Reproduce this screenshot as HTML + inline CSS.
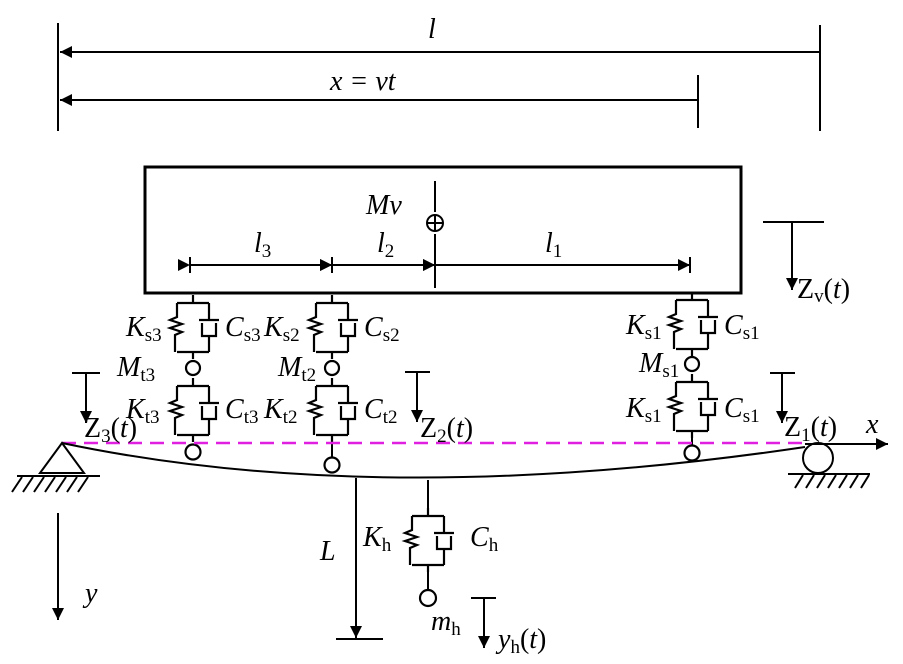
<!DOCTYPE html>
<html><head><meta charset="utf-8"><style>
body{margin:0;background:#fff}
svg{display:block}
</style></head><body>
<svg width="903" height="664" viewBox="0 0 903 664" xmlns="http://www.w3.org/2000/svg" font-family="Liberation Serif, serif" font-size="28">
<defs>
<marker id="a" viewBox="0 0 10 10" refX="10" refY="5" markerWidth="14" markerHeight="12" markerUnits="userSpaceOnUse" orient="auto"><path d="M0,0L10,5L0,10z"/></marker>
<g id="u" fill="none" stroke="#000" stroke-width="2.2">
<path d="M0,-8V0M-16,0H16M-16,0V14l-7,3l12,4l-12,4l12,4l-7,3V49M16,0V17M6,17H26M9,20V33H23V20M16,33V49M-16,49H16M0,49V56"/>
</g>
</defs>
<g stroke="#000" stroke-width="2" fill="none">
<path d="M58,23V131M820,25V131M698,75V128"/>
<path d="M820,52H60" marker-end="url(#a)"/>
<path d="M698,100H60" marker-end="url(#a)"/>
<rect x="145" y="167" width="596" height="126" stroke-width="3"/>
<path d="M435,181V212M435,234V288" />
<circle cx="435" cy="223" r="8"/><path d="M427,223H443M435,215V231"/>
<path d="M190,257V273M332,257V273M690,257V273" />
<path d="M190,265H332" marker-start="url(#a)" marker-end="url(#a)"/>
<path d="M332,265H435" marker-start="url(#a)" marker-end="url(#a)"/>
<path d="M435,265H690" marker-start="url(#a)" marker-end="url(#a)"/>
</g>
<use href="#u" x="193" y="303"/><circle cx="193" cy="368" r="7" fill="#fff" stroke="#000" stroke-width="2.2"/><use href="#u" x="193" y="386"/><circle cx="193" cy="452" r="7.5" fill="none" stroke="#000" stroke-width="2.2"/>
<use href="#u" x="332" y="303"/><circle cx="332" cy="368" r="7" fill="#fff" stroke="#000" stroke-width="2.2"/><use href="#u" x="332" y="386"/><path d="M332,435V458" stroke="#000" stroke-width="2"/><circle cx="332" cy="465" r="7.5" fill="none" stroke="#000" stroke-width="2.2"/>
<use href="#u" x="692" y="300"/><circle cx="692" cy="364" r="7" fill="#fff" stroke="#000" stroke-width="2.2"/><use href="#u" x="692" y="382"/><path d="M692,431V446" stroke="#000" stroke-width="2"/><circle cx="692" cy="453" r="7.5" fill="none" stroke="#000" stroke-width="2.2"/>
<path d="M62,443H805" stroke="#e020e0" stroke-width="2.5" stroke-dasharray="14,8" fill="none"/>
<g stroke="#000" stroke-width="2" fill="none">
<path d="M62,443Q380,510 805,447"/>
<path d="M805,444H888" marker-end="url(#a)"/>
<circle cx="818" cy="458" r="15"/>
<path d="M788,474H870M795,488l8,-13M806,488l8,-13M817,488l8,-13M828,488l8,-13M839,488l8,-13M850,488l8,-13M861,488l8,-13"/>
<path d="M62,443L40,473H84Z"/>
<path d="M17,476H100M12,492l10,-15M23,492l10,-15M34,492l10,-15M45,492l10,-15M56,492l10,-15M67,492l10,-15M78,492l10,-15"/>
<path d="M763,222H824"/><path d="M792,222V290" marker-end="url(#a)"/>
<path d="M770,373H795"/><path d="M782,373V423" marker-end="url(#a)"/>
<path d="M405,372H430"/><path d="M417,372V422" marker-end="url(#a)"/>
<path d="M72,373H100"/><path d="M86,373V423" marker-end="url(#a)"/>
<path d="M58,513V620" marker-end="url(#a)"/>
<path d="M356,478V638" marker-end="url(#a)"/>
<path d="M336,639H383"/>
<path d="M428,480V508"/>
<path d="M471,598H496"/><path d="M484,598V648" marker-end="url(#a)"/>
</g>
<use href="#u" x="428" y="516"/>
<path d="M428,572V590" stroke="#000" stroke-width="2"/>
<circle cx="428" cy="598" r="8" fill="none" stroke="#000" stroke-width="2.2"/>
<g font-style="italic">
<text x="428" y="38">l</text>
<text x="330" y="90">x = vt</text>
<text x="366" y="214">Mv</text>
<text x="254" y="252">l<tspan font-size="19" dy="5" font-style="normal">3</tspan></text>
<text x="377" y="252">l<tspan font-size="19" dy="5" font-style="normal">2</tspan></text>
<text x="545" y="252">l<tspan font-size="19" dy="5" font-style="normal">1</tspan></text>
<text x="126" y="336">K<tspan font-size="19" dy="5" font-style="normal">s3</tspan></text>
<text x="225" y="336">C<tspan font-size="19" dy="5" font-style="normal">s3</tspan></text>
<text x="264" y="336">K<tspan font-size="19" dy="5" font-style="normal">s2</tspan></text>
<text x="364" y="336">C<tspan font-size="19" dy="5" font-style="normal">s2</tspan></text>
<text x="117" y="376">M<tspan font-size="19" dy="5" font-style="normal">t3</tspan></text>
<text x="278" y="376">M<tspan font-size="19" dy="5" font-style="normal">t2</tspan></text>
<text x="126" y="418">K<tspan font-size="19" dy="5" font-style="normal">t3</tspan></text>
<text x="225" y="418">C<tspan font-size="19" dy="5" font-style="normal">t3</tspan></text>
<text x="264" y="418">K<tspan font-size="19" dy="5" font-style="normal">t2</tspan></text>
<text x="364" y="418">C<tspan font-size="19" dy="5" font-style="normal">t2</tspan></text>
<text x="626" y="334">K<tspan font-size="19" dy="5" font-style="normal">s1</tspan></text>
<text x="724" y="334">C<tspan font-size="19" dy="5" font-style="normal">s1</tspan></text>
<text x="639" y="372">M<tspan font-size="19" dy="5" font-style="normal">s1</tspan></text>
<text x="626" y="417">K<tspan font-size="19" dy="5" font-style="normal">s1</tspan></text>
<text x="724" y="417">C<tspan font-size="19" dy="5" font-style="normal">s1</tspan></text>
<text x="866" y="433">x</text>
<text x="85" y="602">y</text>
<text x="320" y="560">L</text>
<text x="363" y="546">K<tspan font-size="19" dy="5" font-style="normal">h</tspan></text>
<text x="470" y="546">C<tspan font-size="19" dy="5" font-style="normal">h</tspan></text>
<text x="431" y="630">m<tspan font-size="19" dy="5" font-style="normal">h</tspan></text>
<text x="498" y="648">y<tspan font-size="19" dy="5" font-style="normal">h</tspan><tspan dy="-5" font-style="normal">(</tspan>t<tspan font-style="normal">)</tspan></text>
</g>
<text x="797" y="298">Z<tspan font-size="19" dy="4">v</tspan><tspan dy="-4">(</tspan><tspan font-style="italic">t</tspan>)</text>
<text x="84" y="437">Z<tspan font-size="19" dy="5">3</tspan><tspan dy="-5">(</tspan><tspan font-style="italic">t</tspan>)</text>
<text x="420" y="437">Z<tspan font-size="19" dy="5">2</tspan><tspan dy="-5">(</tspan><tspan font-style="italic">t</tspan>)</text>
<text x="784" y="436">Z<tspan font-size="19" dy="5">1</tspan><tspan dy="-5">(</tspan><tspan font-style="italic">t</tspan>)</text>
</svg>
</body></html>
